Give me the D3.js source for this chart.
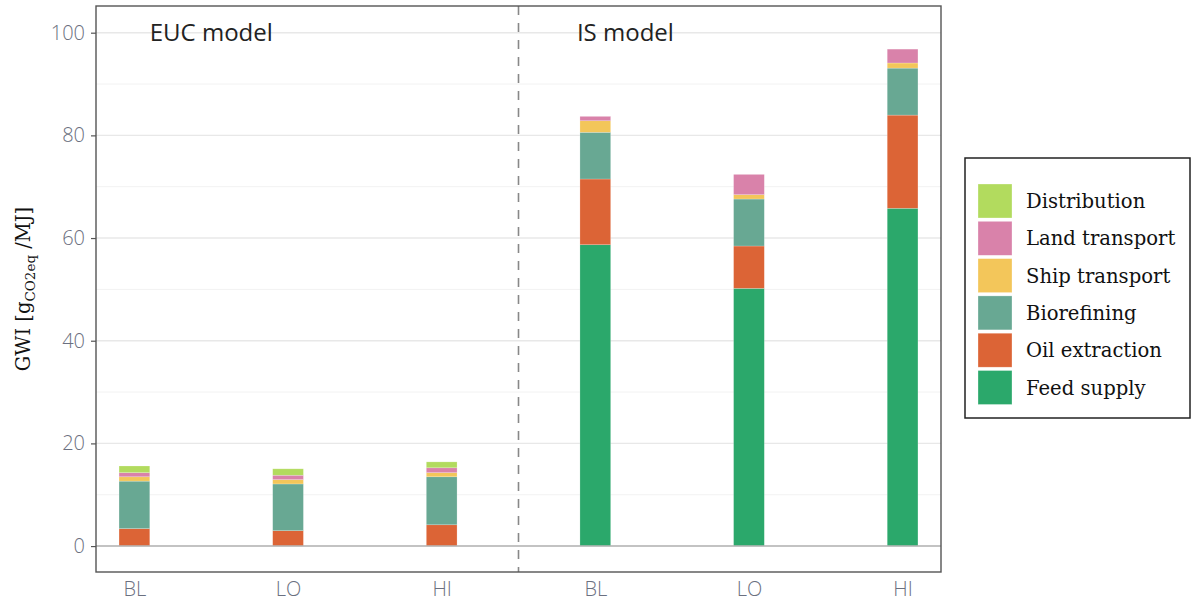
<!DOCTYPE html>
<html>
<head>
<meta charset="utf-8">
<script src="https://cdn.jsdelivr.net/npm/d3@7"></script>
<style>
  html, body { margin: 0; padding: 0; background: #fff; }
  svg { display: block; }
</style>
</head>
<body>
<svg id="chart" width="1195" height="604"></svg>
<script>
// Scenarios, in plotting order (3 per model)
const scenarios = ["BL", "LO", "HI", "BL", "LO", "HI"];
const models = ["EUC model", "IS model"];
// Life-cycle stages, stacked bottom to top
const stages = ["Feed supply", "Oil extraction", "Biorefining", "Ship transport", "Land transport", "Distribution"];
const stageColors = ["#2ba86b", "#dc6436", "#68a893", "#f3c65a", "#d982aa", "#b2db5e"];

// GWI contributions per stage (g CO2eq / MJ), one value per scenario
const feedSupply    = [0,    0,    0,    58.7, 50.2, 65.8];
const oilExtraction = [3.4,  3.0,  4.15, 12.8, 8.25, 18.15];
const biorefining   = [9.25, 9.1,  9.35, 9.1,  9.15, 9.15];
const shipTransport = [0.85, 0.85, 0.8,  2.25, 0.85, 1.0];
const landTransport = [0.8,  0.85, 0.95, 0.85, 3.95, 2.7];
const distribution  = [1.3,  1.25, 1.15, 0,    0,    0];

const yTicks = [0, 20, 40, 60, 80, 100];
const yMinor = [10, 30, 50, 70, 90];

const series = [feedSupply, oilExtraction, biorefining, shipTransport, landTransport, distribution];
const rows = scenarios.map((s, i) => {
  const r = { idx: i + 1, scenario: s };
  stages.forEach((st, k) => { r[st] = series[k][i]; });
  return r;
});

const svg = d3.select("#chart");
const m = { left: 96, right: 941, top: 6, bottom: 572 };

const x = d3.scaleLinear().domain([0.75, 6.25]).range([m.left, m.right]);
const y = d3.scaleLinear().domain([-5.05, 105.2]).range([m.bottom, m.top]);
const barW = x(1.1) - x(0.9);

const grid = svg.append("g");
grid.selectAll("line.minor").data(yMinor).join("line")
  .attr("x1", m.left).attr("x2", m.right)
  .attr("y1", d => y(d)).attr("y2", d => y(d))
  .attr("stroke", "#f2f2f2").attr("stroke-width", 1);
grid.selectAll("line.major").data(yTicks).join("line")
  .attr("x1", m.left).attr("x2", m.right)
  .attr("y1", d => y(d)).attr("y2", d => y(d))
  .attr("stroke", "#e8e8e8").attr("stroke-width", 1.4);

// Stacked bars
const stack = d3.stack().keys(stages)(rows);
svg.append("g").selectAll("g").data(stack).join("g")
  .attr("fill", (d, i) => stageColors[i])
  .selectAll("rect").data(d => d.filter(p => p[1] - p[0] > 0)).join("rect")
  .attr("x", d => x(d.data.idx) - barW / 2)
  .attr("width", barW)
  .attr("y", d => y(d[1]))
  .attr("height", d => y(d[0]) - y(d[1]))
  .attr("stroke", "#ffffff").attr("stroke-opacity", 0.35).attr("stroke-width", 0.6);

// Zero reference line
svg.append("line")
  .attr("x1", m.left).attr("x2", m.right)
  .attr("y1", y(0)).attr("y2", y(0))
  .attr("stroke", "#b5b5b5").attr("stroke-width", 1.6);

// Divider between the two models
svg.append("line")
  .attr("x1", x(3.5)).attr("x2", x(3.5))
  .attr("y1", m.top).attr("y2", m.bottom)
  .attr("stroke", "#888").attr("stroke-width", 1.6)
  .attr("stroke-dasharray", "9,8");

// Panel border
svg.append("rect")
  .attr("x", m.left).attr("y", m.top)
  .attr("width", m.right - m.left).attr("height", m.bottom - m.top)
  .attr("fill", "none").attr("stroke", "#555").attr("stroke-width", 1.4);

const tickFont = "'Open Sans', sans-serif";

// Y axis
const yAxis = svg.append("g")
  .attr("transform", `translate(${m.left},0)`)
  .call(d3.axisLeft(y).tickValues(yTicks).tickSize(5).tickPadding(6));
yAxis.select(".domain").remove();
yAxis.selectAll(".tick line").attr("stroke", "#555").attr("stroke-width", 1.2);
yAxis.selectAll(".tick text")
  .attr("fill", "#6b7080").attr("font-family", tickFont)
  .attr("font-size", 20).attr("font-weight", 300);

// X labels
const xAxis = svg.append("g")
  .attr("transform", `translate(0,${m.bottom})`)
  .call(d3.axisBottom(x).tickValues(d3.range(1, 7)).tickFormat(d => scenarios[d - 1]).tickSize(0).tickPadding(10));
xAxis.select(".domain").remove();
xAxis.selectAll(".tick text")
  .attr("fill", "#6b7080").attr("font-family", tickFont)
  .attr("font-size", 20).attr("font-weight", 300);

// Model titles
svg.append("g").selectAll("text").data(models).join("text")
  .attr("x", (d, i) => x(i === 0 ? 1.1 : 3.88))
  .attr("y", 41)
  .attr("fill", "#222")
  .attr("font-family", "'Open Sans', sans-serif")
  .attr("font-size", 24)
  .text(d => d);

// Y axis title
const yt = svg.append("text")
  .attr("transform", `translate(30,${(m.top + m.bottom) / 2}) rotate(-90)`)
  .attr("text-anchor", "middle")
  .attr("font-family", "'DejaVu Serif', serif")
  .attr("font-size", 19.5)
  .attr("fill", "#111");
yt.append("tspan").text("GWI [g");
yt.append("tspan").attr("font-size", 13.5).attr("dy", 5).text("CO2eq");
yt.append("tspan").attr("dy", -5).text(" /MJ]");

// Legend
const lg = svg.append("g").attr("transform", "translate(965,158)");
lg.append("rect").attr("width", 225).attr("height", 260)
  .attr("fill", "#fff").attr("stroke", "#222").attr("stroke-width", 1.5);
const legendOrder = stages.slice().reverse();
const items = lg.selectAll("g.item").data(legendOrder).join("g")
  .attr("transform", (d, i) => `translate(13,${26 + i * 37.3})`);
items.append("rect").attr("width", 34).attr("height", 34)
  .attr("fill", d => stageColors[stages.indexOf(d)])
  .attr("stroke", "#fff").attr("stroke-opacity", 0.5).attr("stroke-width", 0.6);
items.append("text").attr("x", 48).attr("y", 24)
  .attr("font-family", "'DejaVu Serif', serif")
  .attr("font-size", 19.6)
  .attr("fill", "#111")
  .text(d => d);
</script>
</body>
</html>
